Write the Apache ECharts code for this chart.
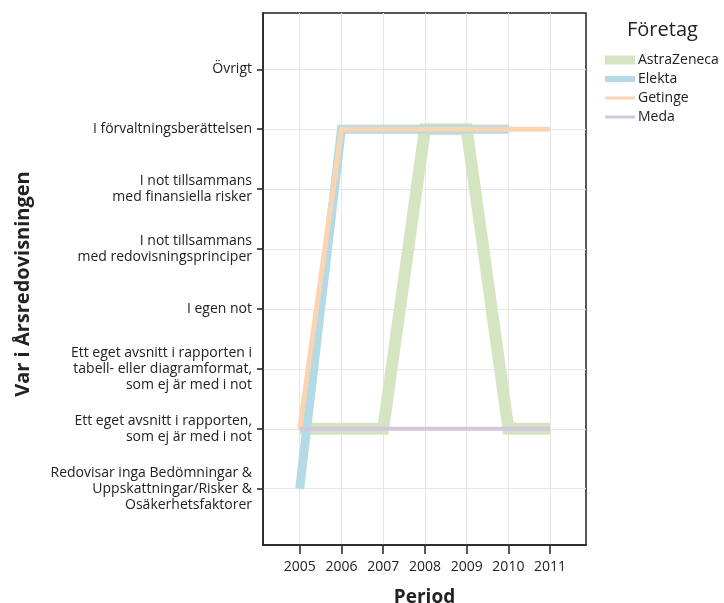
<!DOCTYPE html>
<html>
<head>
<meta charset="utf-8">
<script src="https://cdn.jsdelivr.net/npm/echarts@6/dist/echarts.min.js"></script>
<style>
  html, body { margin: 0; padding: 0; background: #fff; }
  #chart { width: 724px; height: 603px; }
</style>
</head>
<body>
<div id="chart"></div>
<script>
// Placement categories, bottom (0) to top (7)
const placements = [
  'Redovisar inga Bedömningar &\nUppskattningar/Risker &\nOsäkerhetsfaktorer',
  'Ett eget avsnitt i rapporten,\nsom ej är med i not',
  'Ett eget avsnitt i rapporten i\ntabell- eller diagramformat,\nsom ej är med i not',
  'I egen not',
  'I not tillsammans\nmed redovisningsprinciper',
  'I not tillsammans\nmed finansiella risker',
  'I förvaltningsberättelsen',
  'Övrigt'
];
const years = [2005, 2006, 2007, 2008, 2009, 2010, 2011];

// Placement index per year for each company
const astraZeneca = [1, 1, 1, 6, 6, 1, 1];
const elekta      = [0, 6, 6, 6, 6, 6, null];
const getinge     = [1, 6, 6, 6, 6, 6, 6];
const meda        = [1, 1, 1, 1, 1, 1, 1];

const companies = ['AstraZeneca', 'Elekta', 'Getinge', 'Meda'];
const colors = ['#d6e5c1', '#b3dbe6', '#fcd4b2', '#d4c6e0'];
const widths = [12, 9, 5, 4];
const legendHeights = [9, 6, 3, 3];

const font = 'Open Sans';
const textColor = '#222';

function pairs(vals) {
  return years.map((y, i) => [y, vals[i]]).filter(p => p[1] !== null);
}

const seriesValues = [astraZeneca, elekta, getinge, meda];
const series = companies.map((name, k) => ({
  name: name,
  type: 'line',
  data: pairs(seriesValues[k]),
  showSymbol: false,
  symbol: 'none',
  animation: false,
  z: 2 + k,
  lineStyle: { color: colors[k], width: widths[k], cap: 'butt', join: 'miter' },
  itemStyle: { color: colors[k] }
}));

// Legend drawn as swatches + labels
const legendGraphics = [{
  type: 'text', left: 627, top: 20,
  style: { text: 'Företag', font: '20px "' + font + '"', fill: textColor }
}];
companies.forEach((name, k) => {
  const cy = 60 + k * 19;
  legendGraphics.push({
    type: 'rect',
    shape: { x: 605, y: cy - legendHeights[k] / 2, width: 30, height: legendHeights[k] },
    style: { fill: colors[k] }
  });
  legendGraphics.push({
    type: 'text', x: 638, y: cy,
    style: { text: name, font: '14px "' + font + '"', fill: textColor, verticalAlign: 'middle' }
  });
});

const ticks = placements.map((_, i) => i);

const chart = echarts.init(document.getElementById('chart'), null, { renderer: 'canvas' });
chart.setOption({
  backgroundColor: '#fff',
  animation: false,
  grid: {
    left: 263, right: 138, top: 13, bottom: 58,
    outerBoundsMode: 'none', containLabel: false,
    show: true, borderColor: '#222', borderWidth: 1.5, backgroundColor: 'transparent'
  },
  xAxis: {
    type: 'value',
    min: 2004.12, max: 2011.86,
    name: 'Period', nameLocation: 'middle', nameGap: 43,
    nameTextStyle: { fontFamily: font, fontWeight: 'bold', fontSize: 19, color: textColor },
    axisLine: { show: true, onZero: false, lineStyle: { color: '#222', width: 1.5 } },
    axisTick: { show: true, customValues: years, length: 9, lineStyle: { color: '#222', width: 1.5 } },
    axisLabel: {
      customValues: years, margin: 15, fontFamily: font, fontSize: 14, color: textColor,
      formatter: v => String(v)
    },
    splitLine: { show: true, lineStyle: { color: '#e6e6e6', width: 1 } }
  },
  yAxis: {
    type: 'value',
    min: -0.94, max: 7.94,
    name: 'Var i Årsredovisningen', nameLocation: 'middle', nameGap: 230,
    nameTextStyle: { fontFamily: font, fontWeight: 'bold', fontSize: 20, color: textColor, padding: [0, 10, 0, 0] },
    axisLine: { show: true, onZero: false, lineStyle: { color: '#222', width: 1.5 } },
    axisTick: { show: true, customValues: ticks, length: 6, lineStyle: { color: '#222', width: 1.5 } },
    axisLabel: {
      customValues: ticks, margin: 11,
      fontFamily: font, fontSize: 14, color: textColor, lineHeight: 16, align: 'right',
      formatter: v => placements[Math.round(v)]
    },
    splitLine: { show: true, lineStyle: { color: '#e6e6e6', width: 1 } }
  },
  series: series,
  graphic: legendGraphics
});
</script>
</body>
</html>
